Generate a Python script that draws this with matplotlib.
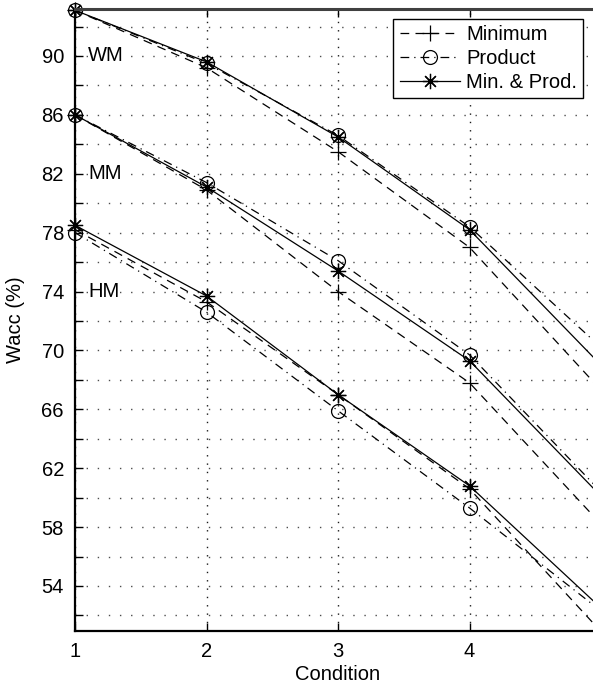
import numpy as np
import matplotlib
matplotlib.use("Agg")
import matplotlib.pyplot as plt

plt.rcParams['font.family'] = ['Liberation Sans', 'DejaVu Sans']
plt.rcParams['font.size'] = 14.5

# ---- data ----
conditions = [1, 2, 3, 4, 5]

wm_min = [93.1, 89.2, 83.5, 77.0, 67.3]
wm_prod = [93.1, 89.5, 84.6, 78.4, 70.2]
wm_both = [93.1, 89.6, 84.5, 78.2, 69.0]

mm_min = [86.0, 80.9, 74.0, 67.8, 58.2]
mm_prod = [86.0, 81.4, 76.1, 69.7, 60.4]
mm_both = [86.0, 81.1, 75.4, 69.3, 60.1]

hm_min = [78.2, 73.3, 67.0, 60.6, 50.9]
hm_prod = [78.0, 72.6, 65.9, 59.3, 52.3]
hm_both = [78.5, 73.7, 67.0, 60.8, 52.5]

group_names = ['WM', 'MM', 'HM']
group_label_y = [90, 82, 74]

fig = plt.figure(figsize=(5.93, 6.90), dpi=100)
ax = fig.add_axes([75/593, 1 - 631/690, 1 - 75/593, (631 - 9)/690])

styles = [
    dict(ls='--', marker='+', ms=11, dashes=(7, 5)),
    dict(ls='-.', marker='o', ms=10, mfc='none', dashes=(7, 4, 1, 4)),
    dict(ls='-', marker=(8, 2, 0), ms=11),
]
labels = ['Minimum', 'Product', 'Min. & Prod.']

groups = [(wm_min, wm_prod, wm_both), (mm_min, mm_prod, mm_both), (hm_min, hm_prod, hm_both)]
for gi, series in enumerate(groups):
    for si, vals in enumerate(series):
        st = dict(styles[si])
        ax.plot(conditions, vals, color='black', lw=0.9, mew=0.9, clip_on=False,
                label=labels[si] if gi == 0 else None, **st)

# group labels sit on a white patch so the grid dots don't show through
for name, yv in zip(group_names, group_label_y):
    ax.text(1.1, yv, name, va='center', ha='left',
            bbox=dict(facecolor='white', edgecolor='none', pad=0.5))

ax.set_xlim(1, 1 + (593 - 75) / 131.5)
ax.set_ylim(50.94, 93.19)
ax.set_xticks([1, 2, 3, 4])
ax.set_yticks(np.arange(54, 91, 4))
ax.set_yticks(np.arange(52, 93, 2), minor=True)

ax.tick_params(direction='in', length=6, width=1, top=True, pad=8)
ax.tick_params(which='minor', direction='in', length=6, width=1)
ax.grid(True, which='both', axis='y', ls=(0, (1, 7)), color='0.3', lw=1.0)
ax.grid(True, which='major', axis='x', ls=(0, (1, 5)), color='0.1', lw=1.0)

ax.spines['right'].set_visible(False)
ax.spines['left'].set_linewidth(1.6)
ax.spines['bottom'].set_linewidth(1.6)
ax.spines['top'].set_linewidth(2.2)
ax.spines['top'].set_color('0.25')

ax.set_xlabel('Condition', labelpad=4)
ax.xaxis.set_label_coords((3 - 1) / (ax.get_xlim()[1] - 1), -0.055)
ax.set_ylabel('Wacc (%)')
ax.yaxis.set_label_coords(-0.097, 0.5)

leg = ax.legend(loc='upper right', bbox_to_anchor=(583/593, 1 - 19/690),
                bbox_transform=fig.transFigure, borderaxespad=0,
                fancybox=False, edgecolor='black', framealpha=1,
                handlelength=3.0, handletextpad=0.3, labelspacing=0.25,
                borderpad=0.3)
leg.get_frame().set_linewidth(1.0)

fig.savefig('out.png', dpi=100)
